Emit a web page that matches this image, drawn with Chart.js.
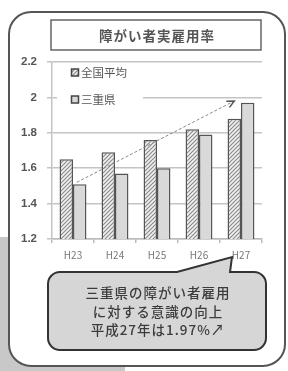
<!DOCTYPE html>
<html><head><meta charset="utf-8">
<script src="https://cdn.jsdelivr.net/npm/chart.js@4"></script>
<style>html,body{margin:0;padding:0;background:#fff;}canvas{display:block}</style>
</head><body>
<canvas id="c" width="288" height="371"></canvas>
<script>
const categories = ['H23', 'H24', 'H25', 'H26', 'H27'];
const nationalValues = [1.65, 1.69, 1.76, 1.82, 1.88];
const mieValues = [1.51, 1.57, 1.60, 1.79, 1.97];
const seriesLabels = ['全国平均', '三重県'];
const yMin = 1.2, yMax = 2.2, yStep = 0.2;
const chartTitle = '障がい者実雇用率';
const calloutLines = ['三重県の障がい者雇用', 'に対する意識の向上', '平成27年は1.97%↗'];
const arrowStartValue = 1.52;
const arrowEndValue = 1.98;

const FF = '"Noto Sans CJK JP", "Noto Sans", sans-serif';

function makeHatch() {
  const c = document.createElement('canvas');
  c.width = 4; c.height = 4;
  const g = c.getContext('2d');
  g.fillStyle = '#f2f2f2';
  g.fillRect(0, 0, 4, 4);
  g.strokeStyle = '#8a8a8a';
  g.lineWidth = 1.2;
  g.beginPath();
  g.moveTo(-1, 5); g.lineTo(5, -1);
  g.moveTo(-1, 1); g.lineTo(1, -1);
  g.moveTo(3, 5); g.lineTo(5, 3);
  g.stroke();
  return g.createPattern(c, 'repeat');
}
const hatch = makeHatch();

function rr(ctx, x, y, w, h, r) {
  ctx.beginPath();
  ctx.moveTo(x + r, y);
  ctx.lineTo(x + w - r, y);
  ctx.arcTo(x + w, y, x + w, y + r, r);
  ctx.lineTo(x + w, y + h - r);
  ctx.arcTo(x + w, y + h, x + w - r, y + h, r);
  ctx.lineTo(x + r, y + h);
  ctx.arcTo(x, y + h, x, y + h - r, r);
  ctx.lineTo(x, y + r);
  ctx.arcTo(x, y, x + r, y, r);
  ctx.closePath();
}

const framePlugin = {
  id: 'frame',
  beforeDraw(chart) {
    const ctx = chart.ctx;
    ctx.save();
    ctx.fillStyle = '#c8c8c8';
    ctx.fillRect(0, 237, 10, 134);
    ctx.fillRect(0, 340, 125, 31);
    rr(ctx, 9, 12, 276, 354, 22);
    ctx.fillStyle = '#fff';
    ctx.fill();
    ctx.lineWidth = 2;
    ctx.strokeStyle = '#555';
    ctx.stroke();
    // title box
    ctx.lineWidth = 1.5;
    ctx.strokeStyle = '#666';
    ctx.strokeRect(51, 20, 210, 30);
    ctx.fillStyle = '#555';
    ctx.font = 'bold 13.5px ' + FF;
    ctx.textAlign = 'center';
    ctx.textBaseline = 'middle';
    ctx.letterSpacing = '1px';
    ctx.fillText(chartTitle, 157, 35.5);
    ctx.restore();
  },
  afterDatasetsDraw(chart) {
    const ctx = chart.ctx;
    const y = chart.scales.y;
    const ca = chart.chartArea;
    ctx.save();
    // legend
    ctx.fillStyle = '#fff';
    ctx.fillRect(57, 65, 86, 43);
    const items = chart.data.datasets;
    const rows = [72.5, 99.5];
    items.forEach((ds, i) => {
      const cy = rows[i];
      ctx.fillStyle = ds.backgroundColor;
      ctx.fillRect(71.5, cy - 3.5, 7, 7);
      ctx.strokeStyle = '#444';
      ctx.lineWidth = 1.5;
      ctx.strokeRect(71.5, cy - 3.5, 7, 7);
      ctx.fillStyle = '#555';
      ctx.font = '11.5px ' + FF;
      ctx.textAlign = 'left';
      ctx.textBaseline = 'middle';
      ctx.fillText(ds.label, 81, cy);
    });
    // arrow
    const startBar = chart.getDatasetMeta(1).data[0];
    const endBar = chart.getDatasetMeta(0).data[categories.length - 1];
    const x1 = startBar.x - 3, y1 = y.getPixelForValue(arrowStartValue);
    const x2 = endBar.x, y2 = y.getPixelForValue(arrowEndValue);
    ctx.strokeStyle = '#8a8a8a';
    ctx.lineWidth = 1;
    ctx.setLineDash([3, 2]);
    ctx.beginPath(); ctx.moveTo(x1, y1); ctx.lineTo(x2, y2); ctx.stroke();
    ctx.setLineDash([]);
    const ang = Math.atan2(y2 - y1, x2 - x1);
    ctx.strokeStyle = '#555';
    ctx.lineWidth = 1.5;
    ctx.beginPath();
    ctx.moveTo(x2 - 8 * Math.cos(ang - 0.45), y2 - 8 * Math.sin(ang - 0.45));
    ctx.lineTo(x2, y2);
    ctx.lineTo(x2 - 8 * Math.cos(ang + 0.45), y2 - 8 * Math.sin(ang + 0.45));
    ctx.stroke();
    // callout
    const L = ca.left - 4, R = ca.right + 4, T = 272, B = 350, r = 12;
    const tipX = chart.scales.x.getPixelForValue(categories.length - 1) - 9;
    ctx.beginPath();
    ctx.moveTo(L + r, T);
    ctx.lineTo(tipX - 55, T);
    ctx.lineTo(tipX, 257);
    ctx.lineTo(tipX - 2, T);
    ctx.lineTo(R - r, T);
    ctx.arcTo(R, T, R, T + r, r);
    ctx.lineTo(R, B - r);
    ctx.arcTo(R, B, R - r, B, r);
    ctx.lineTo(L + r, B);
    ctx.arcTo(L, B, L, B - r, r);
    ctx.lineTo(L, T + r);
    ctx.arcTo(L, T, L + r, T, r);
    ctx.closePath();
    ctx.fillStyle = '#d6d6d6';
    ctx.fill();
    ctx.strokeStyle = '#333';
    ctx.lineWidth = 2;
    ctx.stroke();
    ctx.fillStyle = '#3c3c3c';
    ctx.font = '500 13.5px ' + FF;
    ctx.letterSpacing = '1px';
    ctx.textAlign = 'center';
    ctx.textBaseline = 'middle';
    const cx = (L + R) / 2 + 1;
    [293, 312, 330].forEach((yy, i) => ctx.fillText(calloutLines[i], cx, yy));
    ctx.restore();
  }
};

new Chart(document.getElementById('c'), {
  type: 'bar',
  data: {
    labels: categories,
    datasets: [
      { label: seriesLabels[0], data: nationalValues, backgroundColor: hatch, borderColor: '#555', borderWidth: 1.5 },
      { label: seriesLabels[1], data: mieValues, backgroundColor: '#d9d9d9', borderColor: '#555', borderWidth: 1.5 }
    ]
  },
  options: {
    responsive: false,
    animation: false,
    devicePixelRatio: 1,
    layout: { padding: { left: 0, top: 62, right: 26, bottom: 102 } },
    datasets: { bar: { categoryPercentage: 0.64, barPercentage: 1.0 } },
    plugins: { legend: { display: false }, tooltip: { enabled: false }, title: { display: false } },
    scales: {
      x: {
        afterFit(s) { s.height = 30; },
        grid: { offset: true, drawOnChartArea: false, tickLength: 4, color: '#bbb', lineWidth: 1.5 },
        border: { color: '#bbb', width: 1.5 },
        ticks: { color: '#777', font: { family: FF, size: 10 }, padding: 6 }
      },
      y: {
        min: yMin, max: yMax,
        afterFit(s) { s.width = 52; },
        grid: { color: '#c4c4c4', lineWidth: 1.5, tickLength: 5 },
        border: { color: '#c4c4c4', width: 1.5 },
        ticks: {
          stepSize: yStep, color: '#555', padding: 10,
          font: { family: '"Liberation Sans", sans-serif', size: 11.5, weight: 'bold' },
          callback: (v) => String(Number(v.toFixed(1)))
        }
      }
    }
  },
  plugins: [framePlugin]
});
</script>
</body></html>
